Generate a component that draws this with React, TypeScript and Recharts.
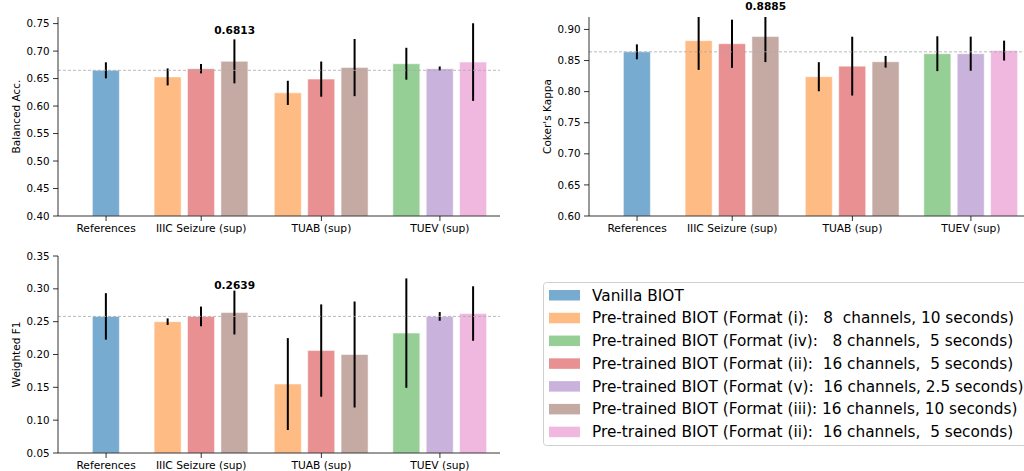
import React from 'react';
import { BarChart, Bar, Cell, XAxis, YAxis, ErrorBar, ReferenceLine, ReferenceDot } from 'recharts';

const FONT = '"DejaVu Sans", Verdana, sans-serif';

// x axis groups and where their centres sit on the numeric x axis
const groups = ['References', 'IIIC Seizure (sup)', 'TUAB (sup)', 'TUEV (sup)'];
const groupPos = [0, 2.85, 6.45, 10];

const seriesNames = [
  'Vanilla BIOT',
  'Pre-trained BIOT (Format (i):   8  channels, 10 seconds)',
  'Pre-trained BIOT (Format (iv):   8 channels,  5 seconds)',
  'Pre-trained BIOT (Format (ii):  16 channels,  5 seconds)',
  'Pre-trained BIOT (Format (v):  16 channels, 2.5 seconds)',
  'Pre-trained BIOT (Format (iii): 16 channels, 10 seconds)',
  'Pre-trained BIOT (Format (ii):  16 channels,  5 seconds)',
];
const seriesColors = ['#77acd0', '#ffbb84', '#95cf95', '#e99092', '#c9b3dc', '#c5aaa4', '#f0b8df'];

// one entry per bar: group, slot inside group, series
const barGroup = [0, 1, 1, 1, 2, 2, 2, 3, 3, 3];
const barSlot = [0, -1, 0, 1, -1, 0, 1, -1, 0, 1];
const barSeries = [0, 1, 3, 5, 1, 3, 5, 2, 4, 6];

const balancedAcc = [0.665, 0.653, 0.668, 0.6813, 0.624, 0.649, 0.670, 0.677, 0.668, 0.680];
const balancedAccStd = [0.0146, 0.0155, 0.0085, 0.040, 0.022, 0.032, 0.052, 0.029, 0.004, 0.0706];

const kappa = [0.864, 0.882, 0.877, 0.8885, 0.824, 0.841, 0.848, 0.861, 0.861, 0.866];
const kappaStd = [0.012, 0.047, 0.0387, 0.041, 0.0234, 0.0473, 0.0094, 0.028, 0.0274, 0.016];

const weightedF1 = [0.258, 0.250, 0.258, 0.2639, 0.155, 0.206, 0.200, 0.2326, 0.258, 0.2624];
const weightedF1Std = [0.0354, 0.005, 0.015, 0.0334, 0.070, 0.0703, 0.0807, 0.0833, 0.0066, 0.0415];

const accTicks = [0.4, 0.45, 0.5, 0.55, 0.6, 0.65, 0.7, 0.75];
const kappaTicks = [0.6, 0.65, 0.7, 0.75, 0.8, 0.85, 0.9];
const f1Ticks = [0.05, 0.1, 0.15, 0.2, 0.25, 0.3, 0.35];

const BEST = 3;

const YTitle = ({ viewBox, text }: any) => {
  const cy = viewBox.y + viewBox.height / 2;
  return (
    <text
      x={16}
      y={cy}
      transform={`rotate(-90, 16, ${cy})`}
      textAnchor="middle"
      dominantBaseline="central"
      fontSize={10.5}
      fontFamily={FONT}
      fill="#000"
    >
      {text}
    </text>
  );
};

interface PanelProps {
  values: number[];
  errs: number[];
  domain: [number, number];
  ticks: number[];
  title: string;
  height: number;
  top: number;
  labelOffset: number;
}

const Panel = ({ values, errs, domain, ticks, title, height, top, labelOffset }: PanelProps) => {
  const rows = values.map((v, i) => ({
    x: groupPos[barGroup[i]] + barSlot[i],
    value: v,
    err: errs[i],
    color: seriesColors[barSeries[i]],
  }));
  const axisStyle = { stroke: '#000', strokeWidth: 0.8 };
  // error bars are cut at the top of the axes, like the plot area clip
  const errRange = (d: any) => [d.err, Math.min(d.err, domain[1] - d.value)];

  return (
    <BarChart width={510} height={height} data={rows} margin={{ top, right: 10, left: 0, bottom: 0 }}>
      <XAxis
        type="number"
        dataKey="x"
        domain={[-1.44, 11.8]}
        allowDataOverflow
        ticks={groupPos}
        interval={0}
        tickFormatter={(v: number) => groups[groupPos.indexOf(v)] ?? ''}
        height={24}
        tickSize={5}
        tickMargin={3.5}
        axisLine={axisStyle}
        tickLine={axisStyle}
        tick={{ fill: '#000', fontSize: 10.7, fontFamily: FONT }}
      />
      <YAxis
        type="number"
        domain={domain}
        allowDataOverflow
        ticks={ticks}
        interval={0}
        tickFormatter={(v: number) => v.toFixed(2)}
        width={58}
        tickSize={5}
        tickMargin={3.5}
        axisLine={axisStyle}
        tickLine={axisStyle}
        tick={{ fill: '#000', fontSize: 10.3, fontFamily: FONT }}
        label={<YTitle text={title} />}
      />
      <Bar dataKey="value" barSize={27} isAnimationActive={false} stroke="#ffffff" strokeOpacity={0.5} strokeWidth={1}>
        {rows.map((r, i) => (
          <Cell key={i} fill={r.color} />
        ))}
        <ErrorBar dataKey={errRange} width={0} stroke="#000" strokeWidth={2} direction="y" isAnimationActive={false} />
      </Bar>
      <ReferenceLine y={values[0]} stroke="#aaaaaa" strokeDasharray="3 2" strokeWidth={0.8} />
      <ReferenceDot
        x={rows[BEST].x}
        y={values[BEST] + errs[BEST]}
        r={0}
        fill="none"
        stroke="none"
        ifOverflow="visible"
        label={{
          value: values[BEST].toFixed(4),
          position: 'top',
          offset: labelOffset,
          fill: '#000',
          fontSize: 10.6,
          fontWeight: 'bold',
          fontFamily: FONT,
        }}
      />
    </BarChart>
  );
};

const Legend = () => (
  <svg width={490} height={170} style={{ position: 'absolute', left: 543, top: 282 }}>
    <rect x={0.5} y={0.5} width={500} height={163} rx={3} fill="#fff" stroke="#d0d0d0" strokeWidth={1} />
    {seriesNames.map((name, i) => {
      const cy = 13 + i * 22.78;
      return (
        <g key={i}>
          <rect x={6} y={cy - 5} width={31} height={10.5} fill={seriesColors[i]} />
          <text x={49} y={cy + 5.5} fontSize={15.3} fontFamily={FONT} fill="#000">
            {name.replace(/ /g, '\u00a0')}
          </text>
        </g>
      );
    })}
  </svg>
);

export default function App() {
  return (
    <div
      style={{
        position: 'absolute',
        left: 0,
        top: 0,
        width: 1024,
        height: 471,
        overflow: 'hidden',
        background: '#fff',
        fontFamily: FONT,
      }}
    >
      <div style={{ position: 'absolute', left: 0, top: 0 }}>
        <Panel
          values={balancedAcc}
          errs={balancedAccStd}
          domain={[0.4, 0.762]}
          ticks={accTicks}
          title="Balanced Acc."
          height={240}
          top={17}
          labelOffset={5.5}
        />
      </div>
      <div style={{ position: 'absolute', left: 531, top: 0 }}>
        <Panel
          values={kappa}
          errs={kappaStd}
          domain={[0.6, 0.92]}
          ticks={kappaTicks}
          title="Coker's Kappa"
          height={240}
          top={17}
          labelOffset={1}
        />
      </div>
      <div style={{ position: 'absolute', left: 0, top: 240 }}>
        <Panel
          values={weightedF1}
          errs={weightedF1Std}
          domain={[0.05, 0.35]}
          ticks={f1Ticks}
          title="Weighted F1"
          height={237}
          top={16}
          labelOffset={2}
        />
      </div>
      <Legend />
    </div>
  );
}
